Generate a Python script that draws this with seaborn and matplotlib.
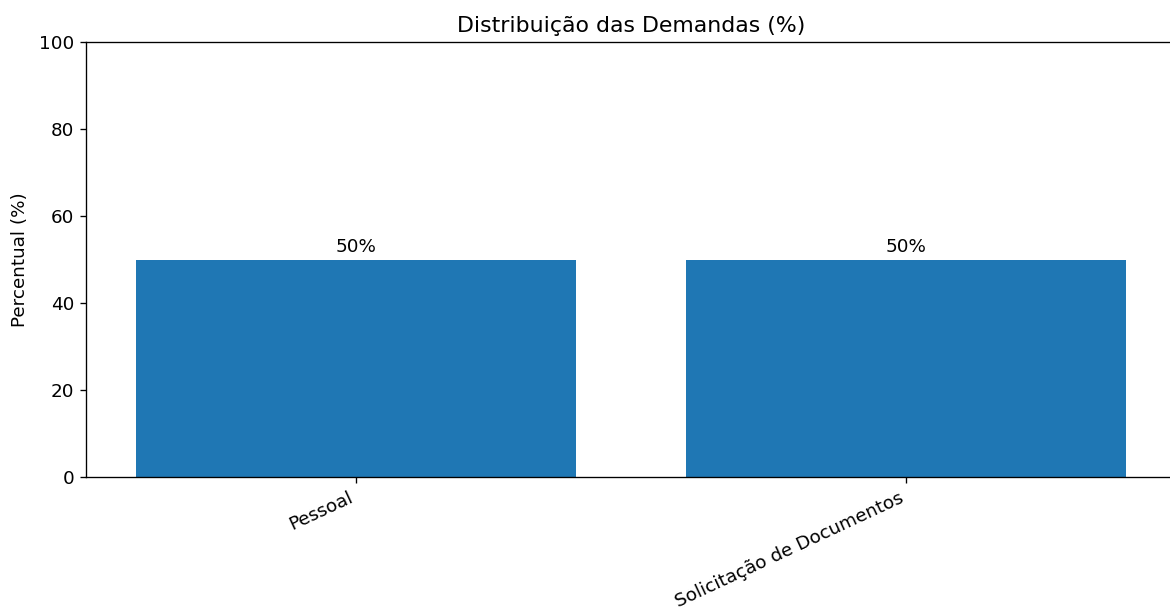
import matplotlib
matplotlib.use("Agg")
import matplotlib.pyplot as plt
import seaborn as sns
import pandas as pd

categorias = ["Pessoal", "Solicitação de Documentos"]
percentuais = [50, 50]
rotulos = ["50%", "50%"]

sns.set_style("ticks")
plt.rcParams['font.family'] = ['DejaVu Sans']
plt.rcParams['text.color'] = 'black'
plt.rcParams['axes.labelcolor'] = 'black'

df = pd.DataFrame({"Categoria": categorias, "Percentual": percentuais})

fig = plt.figure(figsize=(9.75, 5.075), dpi=120)
ax = fig.add_axes([86/1170, 1 - 477/609, (1176 - 86)/1170, (477 - 42)/609])
sns.barplot(data=df, x="Categoria", y="Percentual", color="#1f77b4", saturation=1,
            width=0.8, ax=ax)
for p in ax.patches:
    p.set_edgecolor("none")
for i, (v, t) in enumerate(zip(percentuais, rotulos)):
    ax.text(i, v + 0.8, t, ha="center", va="bottom", fontsize=11, color="black")
ax.set_xlim(-0.49, 1.49)
ax.set_ylim(0, 100)
ax.set_title("Distribuição das Demandas (%)", fontsize=13.2, color="black")
ax.set_ylabel("Percentual (%)", fontsize=11, labelpad=6)
ax.set_xlabel("")
plt.setp(ax.get_xticklabels(), rotation=25, ha="right", fontsize=11)
plt.setp(ax.get_yticklabels(), fontsize=11)
for s in ax.spines.values():
    s.set_visible(True)
    s.set_linewidth(0.8)
    s.set_color("black")
ax.tick_params(colors="black", width=0.8, length=3.5)
fig.savefig("out.png", dpi=120)
